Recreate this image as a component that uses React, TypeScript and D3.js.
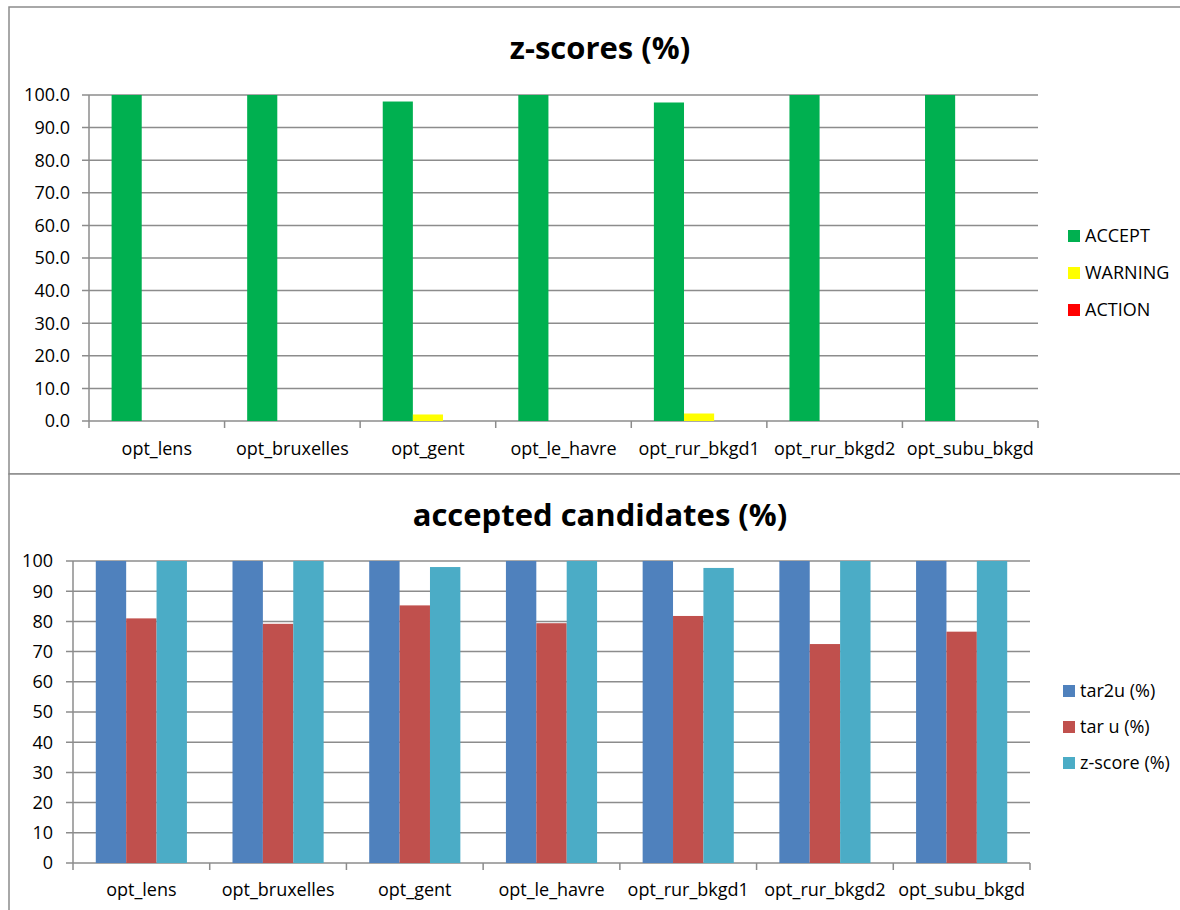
import React from "react";
import * as d3 from "d3";

const categories = ["opt_lens", "opt_bruxelles", "opt_gent", "opt_le_havre", "opt_rur_bkgd1", "opt_rur_bkgd2", "opt_subu_bkgd"];

const zSeries = ["ACCEPT", "WARNING", "ACTION"];
const accept = [100, 100, 98.0, 100, 97.7, 100, 100];
const warning = [0, 0, 2.0, 0, 2.3, 0, 0];
const action = [0, 0, 0, 0, 0, 0, 0];
const zTicks = [0, 10, 20, 30, 40, 50, 60, 70, 80, 90, 100];

const cSeries = ["tar2u (%)", "tar u (%)", "z-score (%)"];
const tar2u = [100, 100, 100, 100, 100, 100, 100];
const taru = [81, 79.2, 85.3, 79.4, 81.8, 72.5, 76.6];
const zscore = [100, 100, 98.0, 100, 97.7, 100, 100];
const cTicks = [0, 10, 20, 30, 40, 50, 60, 70, 80, 90, 100];

const FONT = "'Open Sans', sans-serif";
const GRID = "#8c8c8c";
const LBL = 18;

type PanelProps = {
  title: string;
  titleY: number;
  frame: { x: number; y: number; w: number; h: number };
  plot: { left: number; right: number; top: number; bottom: number };
  series: string[];
  values: number[][];
  colors: string[];
  ticks: number[];
  tickFmt: (v: number) => string;
  labelRight: number;
  xLabelY: number;
  legend: { sqX: number; textX: number; ys: number[] };
};

function Panel(p: PanelProps) {
  const x = d3.scaleBand<string>().domain(categories).range([p.plot.left, p.plot.right]).padding(0);
  const xs = d3.scaleBand<string>().domain(p.series).range([0, x.bandwidth()]).paddingInner(0).paddingOuter(0.75);
  const y = d3.scaleLinear().domain([0, 100]).range([p.plot.bottom, p.plot.top]);
  return (
    <g>
      <rect x={p.frame.x} y={p.frame.y} width={p.frame.w} height={p.frame.h} fill="#fff" stroke="#8c8c8c" strokeWidth={1.5} />
      <text x={600} y={p.titleY} textAnchor="middle" fontFamily={FONT} fontWeight="bold" fontSize={31} fill="#000">{p.title}</text>
      {p.ticks.map((t) => (
        <g key={t}>
          <line x1={p.plot.left - 7} x2={p.plot.right} y1={y(t)} y2={y(t)} stroke={GRID} strokeWidth={1.5} />
          <text x={p.labelRight} y={y(t)} dy="0.35em" textAnchor="end" fontFamily={FONT} fontSize={LBL} fill="#000">{p.tickFmt(t)}</text>
        </g>
      ))}
      <line x1={p.plot.left} x2={p.plot.left} y1={p.plot.top} y2={p.plot.bottom + 7} stroke={GRID} strokeWidth={1.5} />
      {categories.map((c) => (
        <line key={"t" + c} x1={x(c)! + x.bandwidth()} x2={x(c)! + x.bandwidth()} y1={p.plot.bottom} y2={p.plot.bottom + 7} stroke={GRID} strokeWidth={1.5} />
      ))}
      {categories.map((c, i) =>
        p.series.map((s, j) => {
          const v = p.values[j][i];
          if (v <= 0) return null;
          return (
            <rect key={c + s} x={x(c)! + xs(s)!} y={y(v)} width={xs.bandwidth()} height={y(0) - y(v)} fill={p.colors[j]} />
          );
        })
      )}
      {categories.map((c) => (
        <text key={"l" + c} x={x(c)! + x.bandwidth() / 2} y={p.xLabelY} dy="0.35em" textAnchor="middle" fontFamily={FONT} fontSize={LBL} fill="#000">{c}</text>
      ))}
      {p.series.map((s, j) => (
        <g key={"lg" + s}>
          <rect x={p.legend.sqX} y={p.legend.ys[j] - 6} width={12} height={12} fill={p.colors[j]} />
          <text x={p.legend.textX} y={p.legend.ys[j]} dy="0.35em" fontFamily={FONT} fontSize={LBL} fill="#000">{s}</text>
        </g>
      ))}
    </g>
  );
}

export default function App() {
  return (
    <svg width={1180} height={910} style={{ position: "absolute", left: 0, top: 0 }}>
      <rect x={0} y={0} width={1180} height={910} fill="#fff" />
      <Panel
        title="z-scores (%)"
        titleY={59}
        frame={{ x: 9, y: 7, w: 1190, h: 467 }}
        plot={{ left: 89, right: 1038, top: 95, bottom: 421 }}
        series={zSeries}
        values={[accept, warning, action]}
        colors={["#00B050", "#FFFF00", "#FF0000"]}
        ticks={zTicks}
        tickFmt={(v) => v.toFixed(1)}
        labelRight={70}
        xLabelY={449}
        legend={{ sqX: 1068, textX: 1085, ys: [236, 273, 310] }}
      />
      <Panel
        title="accepted candidates (%)"
        titleY={526}
        frame={{ x: 9, y: 474, w: 1190, h: 460 }}
        plot={{ left: 73, right: 1030, top: 561, bottom: 863 }}
        series={cSeries}
        values={[tar2u, taru, zscore]}
        colors={["#4F81BD", "#C0504D", "#4BACC6"]}
        ticks={cTicks}
        tickFmt={(v) => String(v)}
        labelRight={53}
        xLabelY={890}
        legend={{ sqX: 1063, textX: 1080, ys: [691, 727, 763] }}
      />
    </svg>
  );
}
